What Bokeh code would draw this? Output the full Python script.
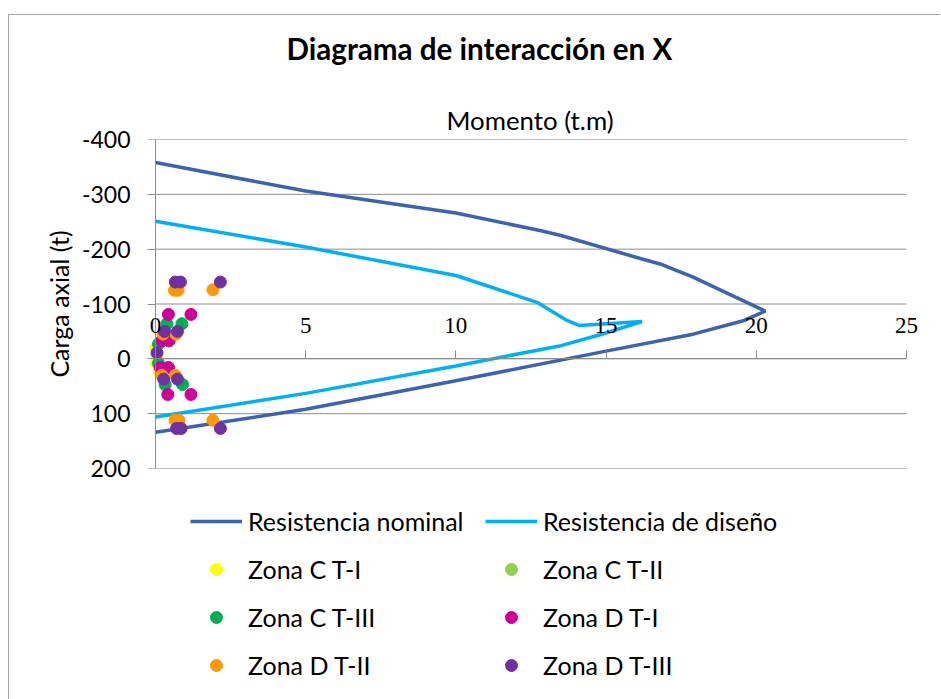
from bokeh.plotting import figure
from bokeh.layouts import column
from bokeh.models import (Range1d, FixedTicker, Title, Legend, LegendItem, LabelSet,
                          ColumnDataSource, LinearAxis)
from bokeh.embed import file_html
from bokeh.resources import INLINE

# ---- data (M in t.m, P in t; compression negative) ----
nominal_M = [0, 5, 10, 12.8, 13.5, 16.2, 16.8, 17.9, 19.1, 20.3, 19.6, 17.9, 15.0, 10.0, 5.0, 0]
nominal_P = [-358, -306, -266, -234, -225, -182, -173, -149, -118, -87, -70, -45, -14, 40, 92, 134]

design_M = [0, 5, 10, 12.7, 13.7, 14.1, 16.2, 14.8, 13.5, 10, 5, 0]
design_P = [-251, -204, -152, -103, -70, -61, -68, -44, -24, 13, 63, 106]

zc1_M = [0.02, 0.05, 0.04, 0.12]
zc1_P = [-20, -3, 8, 22]
zc2_M = [0.21, 0.45, 0.16, 0.43]
zc2_P = [-33, -33, 16, 16]
zc3_M = [0.38, 0.88, 0.10, 0.10, 0.32, 0.90]
zc3_P = [-64, -64, -27, 8, 47, 47]
zd1_M = [0.43, 1.18, 0.21, 0.45, 0.16, 0.43, 0.41, 1.18]
zd1_P = [-81, -81, -33, -33, 16, 16, 65, 65]
zd2_M = [0.63, 0.75, 1.91, 0.25, 0.68, 0.21, 0.66, 0.65, 0.78, 1.91]
zd2_P = [-125, -125, -126, -45, -45, 30, 30, 112, 112, 112]
zd3_M = [0.66, 0.83, 2.16, 0.30, 0.73, 0.05, 0.27, 0.73, 0.70, 0.85, 2.16]
zd3_P = [-140, -140, -140, -50, -50, -11, 37, 37, 127, 127, 127]

zone_names = ["Zona C T-I", "Zona C T-II", "Zona C T-III", "Zona D T-I", "Zona D T-II", "Zona D T-III"]

x_ticks = [0, 5, 10, 15, 20, 25]
x_tick_labels = ["0", "5", "10", "15", "20", "25"]
y_ticks = [-400, -300, -200, -100, 0, 100, 200]
y_tick_labels = ["-400", "-300", "-200", "-100", "0", "100", "200"]

X_MIN, X_MAX = 0, 25
Y_MIN, Y_MAX = -400, 200
X_PAD_L, X_PAD_R = 0.3, 0.47   # room so edge tick labels are not clipped

FONT = "Lato"
GRID = "#8c8c8c"
C_NOM, C_DIS = "#3c64ae", "#00b0f0"
ZONE_COLORS = ["#ffff00", "#92d050", "#00b050", "#cc0099", "#ff9900", "#7030a0"]
BORDER_CSS = ("linear-gradient(#a6a6a6,#a6a6a6) no-repeat 8px 14px / 100% 1px, "
              "linear-gradient(#a6a6a6,#a6a6a6) no-repeat 8px 14px / 1px 100%")

p = figure(frame_width=774, frame_height=329, output_backend="svg", toolbar_location=None,
           x_range=Range1d(X_MIN - X_PAD_L, X_MAX + X_PAD_R), y_range=Range1d(Y_MAX, Y_MIN),
           x_axis_location="above", title=None,
           min_border_left=146, min_border_right=20, min_border_top=139, min_border_bottom=20)
p.outline_line_color = None
p.background_fill_color = None
p.border_fill_color = None
p.styles = {"background": BORDER_CSS}
p.xgrid.visible = False
p.ygrid.visible = False

# horizontal gridlines between the axis limits
p.segment(x0=[X_MIN] * len(y_ticks), y0=y_ticks, x1=[X_MAX] * len(y_ticks), y1=y_ticks,
          line_color=GRID, line_width=1)

# x axis crossing at P = 0
xa = p.xaxis[0]
xa.fixed_location = 0
xa.bounds = (X_MIN, X_MAX)
xa.ticker = FixedTicker(ticks=x_ticks)
xa.major_label_text_alpha = 0
xa.minor_tick_line_color = None
xa.major_tick_out = 8
xa.major_tick_in = 0
xa.major_tick_line_color = GRID
xa.axis_line_color = GRID

xlab_src = ColumnDataSource(dict(x=x_ticks, y=[0] * len(x_ticks), text=x_tick_labels))
p.add_layout(LabelSet(source=xlab_src, x="x", y="y", text="text", y_offset=33,
                      text_align="center", text_baseline="middle", text_font=FONT,
                      text_font_size="23px", text_color="black"))

# left axis: labels only
ya = p.yaxis[0]
ya.ticker = FixedTicker(ticks=y_ticks)
ya.major_label_overrides = dict(zip(y_ticks, y_tick_labels))
ya.minor_tick_line_color = None
ya.major_tick_line_color = None
ya.axis_line_color = None
ya.major_tick_out = 0
ya.major_tick_in = 0
ya.major_label_text_font = FONT
ya.major_label_text_font_size = "23px"
ya.major_label_text_color = "black"
ya.major_label_standoff = 16
ya.axis_label = "Carga axial (t)"
ya.axis_label_text_font = FONT
ya.axis_label_text_font_size = "25px"
ya.axis_label_text_font_style = "normal"
ya.axis_label_text_color = "black"
ya.axis_label_standoff = 5

# y axis line and ticks at M = 0
ya0 = LinearAxis(fixed_location=0, ticker=FixedTicker(ticks=y_ticks), bounds=(Y_MIN, Y_MAX),
                 major_label_text_alpha=0, minor_tick_line_color=None, major_tick_out=8,
                 major_tick_in=0, major_tick_line_color=GRID, axis_line_color=GRID)
p.add_layout(ya0, "left")

# titles (first added sits nearest to the frame)
p.add_layout(Title(text="Momento (t.m)", align="left", offset=300, text_font=FONT,
                   text_font_size="25.8px", text_font_style="normal", text_color="black",
                   standoff=9), "above")
p.add_layout(Title(text=" ", text_font_size="1px", standoff=30), "above")  # vertical gap
p.add_layout(Title(text="Diagrama de interacción en X", align="left", offset=140, text_font=FONT,
                   text_font_size="29.6px", text_font_style="bold", text_color="black",
                   standoff=0), "above")

p.line(nominal_M, nominal_P, line_color=C_NOM, line_width=3.5)
p.line(design_M, design_P, line_color=C_DIS, line_width=3.5)

zones = [(zc1_M, zc1_P), (zc2_M, zc2_P), (zc3_M, zc3_P), (zd1_M, zd1_P), (zd2_M, zd2_P), (zd3_M, zd3_P)]
for (m, pp), c in zip(zones, ZONE_COLORS):
    p.scatter(m, pp, size=12, color=c)

# ---- legend panel below the chart (renderers hidden, used only for legend glyphs) ----
pl = figure(width=940, height=211, output_backend="svg", toolbar_location=None,
            x_range=Range1d(0, 1), y_range=Range1d(0, 1), x_axis_type=None, y_axis_type=None,
            min_border=0, title=None)
pl.outline_line_color = None
pl.background_fill_color = None
pl.border_fill_color = None
pl.grid.visible = False
pl.styles = {"background": "linear-gradient(#a6a6a6,#a6a6a6) no-repeat 8px 0px / 1px 100%"}

l_nom = pl.line(nominal_M, nominal_P, line_color=C_NOM, line_width=3.5, visible=False)
l_dis = pl.line(design_M, design_P, line_color=C_DIS, line_width=3.5, visible=False)
l_z = [pl.scatter(m, pp, size=10, color=c, visible=False) for (m, pp), c in zip(zones, ZONE_COLORS)]

# column-major order: left column then right column
items = [
    LegendItem(label="Resistencia nominal", renderers=[l_nom]),
    LegendItem(label=zone_names[0], renderers=[l_z[0]]),
    LegendItem(label=zone_names[2], renderers=[l_z[2]]),
    LegendItem(label=zone_names[4], renderers=[l_z[4]]),
    LegendItem(label="Resistencia de diseño", renderers=[l_dis]),
    LegendItem(label=zone_names[1], renderers=[l_z[1]]),
    LegendItem(label=zone_names[3], renderers=[l_z[3]]),
    LegendItem(label=zone_names[5], renderers=[l_z[5]]),
]
legend = Legend(items=items, location=(44, 19), orientation="vertical", ncols=2,
                label_text_font=FONT, label_text_font_size="25px", label_text_color="black",
                glyph_width=52, glyph_height=30, label_height=30, label_width=219,
                label_standoff=6, spacing=18, padding=0, margin=0, border_line_color=None,
                background_fill_alpha=0, inactive_fill_alpha=0)
pl.add_layout(legend, "center")

layout = column(p, pl, spacing=0)
open("out.html", "w").write(file_html(layout, INLINE))
